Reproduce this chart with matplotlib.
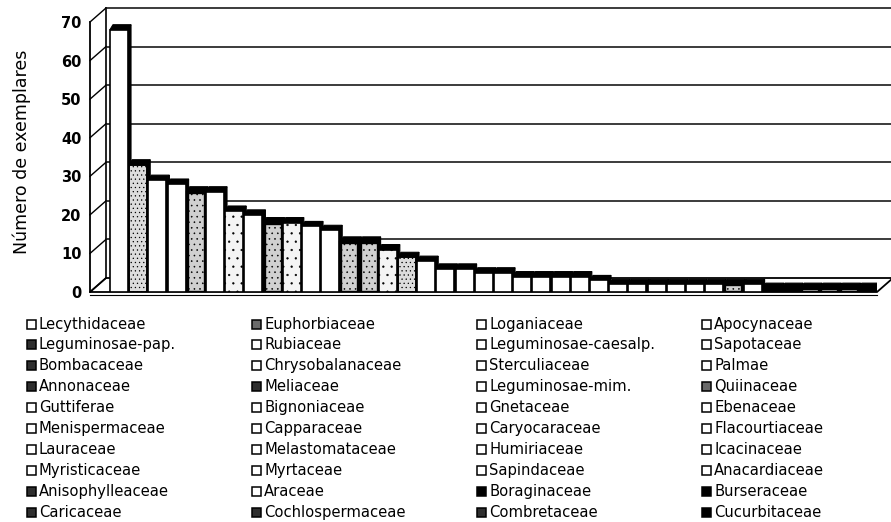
import numpy as np
import matplotlib.pyplot as plt
from matplotlib.patches import Rectangle, Polygon

# families in legend order (read row by row), counts
families = [
    'Lecythidaceae', 'Euphorbiaceae', 'Loganiaceae', 'Apocynaceae',
    'Leguminosae-pap.', 'Rubiaceae', 'Leguminosae-caesalp.', 'Sapotaceae',
    'Bombacaceae', 'Chrysobalanaceae', 'Sterculiaceae', 'Palmae',
    'Annonaceae', 'Meliaceae', 'Leguminosae-mim.', 'Quiinaceae',
    'Guttiferae', 'Bignoniaceae', 'Gnetaceae', 'Ebenaceae',
    'Menispermaceae', 'Capparaceae', 'Caryocaraceae', 'Flacourtiaceae',
    'Lauraceae', 'Melastomataceae', 'Humiriaceae', 'Icacinaceae',
    'Myristicaceae', 'Myrtaceae', 'Sapindaceae', 'Anacardiaceae',
    'Anisophylleaceae', 'Araceae', 'Boraginaceae', 'Burseraceae',
    'Caricaceae', 'Cochlospermaceae', 'Combretaceae', 'Cucurbitaceae',
]
counts = [68, 33, 29, 28, 26, 26, 21, 20, 18, 18, 17, 16, 13, 13, 11, 9, 8, 6, 6, 5,
          5, 4, 4, 4, 4, 3, 2, 2, 2, 2, 2, 2, 2, 2, 1, 1, 1, 1, 1, 1]
# fill type of each family: w white, l light dots, s speckled grey, d dark, k black
fills = ['w', 's', 'w', 'w', 'd', 'w', 'l', 'w', 'd', 'l', 'w', 'w', 'd', 'd', 'l', 's',
         'w', 'w', 'w', 'w', 'w', 'w', 'w', 'w', 'w', 'w', 'w', 'w', 'w', 'w', 'w', 'w',
         'd', 'w', 'k', 'k', 'd', 'd', 'd', 'k']
yticks = [0, 10, 20, 30, 40, 50, 60, 70]

bar_style = {
    'w': dict(fc='white', hatch=None, lw=1.2),
    'l': dict(fc='#f4f4f4', hatch='..', lw=1.2),
    's': dict(fc='#dcdcdc', hatch='....', lw=1.4),
    'd': dict(fc='#d0d0d0', hatch='...', lw=2.4),
    'k': dict(fc='black', hatch=None, lw=1.2),
}
legend_color = {'w': 'white', 'l': 'white', 's': '#6a6a6a', 'd': '#2e2e2e', 'k': 'black'}

plt.rcParams['font.family'] = ['DejaVu Sans']
plt.rcParams['hatch.linewidth'] = 0.4

W, H = 891, 522
fig = plt.figure(figsize=(W / 100, H / 100), dpi=100)
ax = fig.add_axes([90 / W, (H - 292) / H, 787 / W, 270 / H])

x0 = -1.51
x1 = x0 + 787 / 19.2
ax.set_xlim(x0, x1)
ax.set_ylim(0, 70)
ux = 787 / (x1 - x0)
uy = 270 / 70
ddx, ddy = 16 / ux, 14 / uy   # depth of the back wall
bdx, bdy = 3 / ux, 5 / uy     # depth of each bar

for s in ax.spines.values():
    s.set_visible(False)
ax.set_xticks([])
ax.set_yticks(yticks)
ax.tick_params(axis='y', length=0, pad=6, labelsize=10.5)
for lbl in ax.get_yticklabels():
    lbl.set_fontweight('bold')

# floor
floor = Polygon([(x0, 0), (x1, 0), (x1 + ddx, ddy), (x0 + ddx, ddy)], closed=True,
                fc='white', ec='black', lw=1.3, clip_on=False, zorder=1)
ax.add_patch(floor)
ax.plot([x0, x1], [-0.9, -0.9], color='black', lw=0.8, clip_on=False, zorder=1)

# back wall and gridlines
ax.plot([x0 + ddx, x0 + ddx], [ddy, 70 + ddy], color='black', lw=1.2, clip_on=False, zorder=1)
for v in yticks[1:]:
    ax.plot([x0 + ddx, x1 + ddx], [v + ddy, v + ddy], color='#1a1a1a', lw=1.2,
            clip_on=False, zorder=1)

# front axis with slanted ticks
ax.plot([x0, x0], [0, 70], color='black', lw=1.3, clip_on=False, zorder=2)
for v in yticks:
    ax.plot([x0, x0 + ddx], [v, v + ddy], color='black', lw=1.0, clip_on=False, zorder=2)

# bars
for i, (v, f) in enumerate(zip(counts, fills)):
    st = bar_style[f]
    z = 3 + i * 0.01
    left, right = i - 0.47, i + 0.47
    side = Polygon([(right, 0), (right, v), (right + bdx, v + bdy), (right + bdx, bdy)],
                   closed=True, fc='black', ec='black', lw=0.8, zorder=z)
    top = Polygon([(left, v), (left + bdx, v + bdy), (right + bdx, v + bdy), (right, v)],
                  closed=True, fc='black', ec='black', lw=0.8, zorder=z)
    front = Rectangle((left, 0), right - left, v, fc=st['fc'], ec='black',
                      lw=st['lw'], hatch=st['hatch'], zorder=z + 0.001)
    ax.add_patch(side)
    ax.add_patch(top)
    ax.add_patch(front)

fig.text(22 / W, (H - 152) / H, 'Número de exemplares', rotation=90,
         ha='center', va='center', fontsize=12.5)

# legend, four columns filled row by row
for i, name in enumerate(families):
    row, col = divmod(i, 4)
    xl = 27 + 225 * col
    yc = 324 + 20.9 * row
    fig.add_artist(Rectangle((xl / W, (H - yc - 4.5) / H), 9 / W, 9 / H,
                             transform=fig.transFigure, fc=legend_color[fills[i]],
                             ec='black', lw=1.1))
    fig.text((xl + 12) / W, (H - yc) / H, name, ha='left', va='center', fontsize=10.6)

fig.savefig('out.png', dpi=100)
